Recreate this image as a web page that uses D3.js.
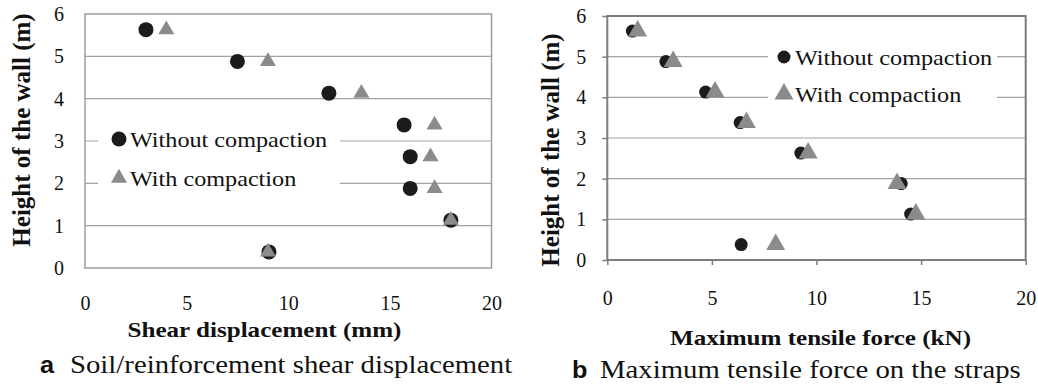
<!DOCTYPE html>
<html>
<head>
<meta charset="utf-8">
<script src="https://cdn.jsdelivr.net/npm/d3@7"></script>
<style>
  body { margin: 0; background: #fff; }
  svg { display: block; }
  text { font-family: 'Liberation Serif', 'Times New Roman', serif; fill: #111; }
</style>
</head>
<body>
<div id="chart"></div>
<script>
// Heights of the straps along the wall (m)
var heights = [5.63, 4.88, 4.13, 3.38, 2.63, 1.88, 1.13, 0.38];

// a: shear displacement (mm)
var shearWithout = [3.0, 7.5, 12.0, 15.7, 16.0, 16.0, 18.0, 9.05];
var shearWith = [4.0, 9.0, 13.6, 17.2, 17.0, 17.2, 18.0, 9.0];

// b: maximum tensile force (kN)
var forceWithout = [1.2, 2.8, 4.7, 6.35, 9.25, 14.05, 14.5, 6.4];
var forceWith = [1.45, 3.15, 5.15, 6.65, 9.6, 13.85, 14.75, 8.05];

var xTicks = [0, 5, 10, 15, 20];
var yTicks = [0, 1, 2, 3, 4, 5, 6];
var seriesNames = ["Without compaction", "With compaction"];

var W = 1038, H = 384;
var svg = d3.select("#chart").append("svg")
    .attr("width", W)
    .attr("height", H);

// the picture is a bit stretched sideways, so horizontal text gets a scale
function stretchedText(g, x, y, str, size, anchor, bold, sx) {
    return g.append("text")
        .attr("transform", "translate(" + x + "," + y + ") scale(" + sx + ",1)")
        .attr("text-anchor", anchor)
        .style("font-size", size + "px")
        .style("font-weight", bold ? "bold" : "normal")
        .text(str);
}

function drawPanel(p) {
    var g = svg.append("g");

    var x = d3.scaleLinear().domain([0, 20]).range([p.left, p.right]);
    var y = d3.scaleLinear().domain([0, 6]).range([p.bottom, p.top]);

    // gridlines
    g.append("g").selectAll("line")
        .data(yTicks.slice(1, -1))
        .enter().append("line")
        .attr("x1", p.left).attr("x2", p.right)
        .attr("y1", function(d) { return y(d); })
        .attr("y2", function(d) { return y(d); })
        .attr("stroke", "#a3a3a3")
        .attr("stroke-width", 1.2);

    // white legend box covers the gridlines
    g.append("rect")
        .attr("x", p.legend.box[0]).attr("y", p.legend.box[1])
        .attr("width", p.legend.box[2]).attr("height", p.legend.box[3])
        .attr("fill", "#fff");

    // plot border
    g.append("rect")
        .attr("x", p.left).attr("y", p.top)
        .attr("width", p.right - p.left).attr("height", p.bottom - p.top)
        .attr("fill", "none")
        .attr("stroke", p.borderColor)
        .attr("stroke-width", p.borderWidth);

    // axes
    var fmt = d3.format("d");
    var xAxis = g.append("g")
        .attr("transform", "translate(0," + p.bottom + ")")
        .call(d3.axisBottom(x).tickValues(xTicks).tickFormat(fmt)
            .tickSize(p.tick).tickSizeOuter(0).tickPadding(p.xPad));
    var yAxis = g.append("g")
        .attr("transform", "translate(" + p.left + ",0)")
        .call(d3.axisLeft(y).tickValues(yTicks).tickFormat(fmt)
            .tickSize(p.tick).tickSizeOuter(0).tickPadding(p.yPad));

    [xAxis, yAxis].forEach(function(a) {
        a.attr("font-family", null).attr("font-size", null);
        a.select(".domain").remove();
        a.selectAll(".tick line").attr("stroke", p.borderColor).attr("stroke-width", 1.5);
        a.selectAll(".tick text")
            .style("font-size", "20px")
            .attr("fill", "#111");
    });

    // points
    g.append("g").selectAll("circle")
        .data(p.without)
        .enter().append("circle")
        .attr("cx", function(d) { return x(d); })
        .attr("cy", function(d, i) { return y(heights[i]); })
        .attr("r", p.r)
        .attr("fill", "#1c1c1c");

    var tri = d3.symbol().type(d3.symbolTriangle).size(p.triSize);
    g.append("g").selectAll("path")
        .data(p.with)
        .enter().append("path")
        .attr("d", tri)
        .attr("transform", function(d, i) { return "translate(" + x(d) + "," + y(heights[i]) + ")"; })
        .attr("fill", "#8b8b8b");

    // legend
    var L = p.legend;
    g.append("circle")
        .attr("cx", L.mx).attr("cy", L.y1)
        .attr("r", p.r)
        .attr("fill", "#1c1c1c");
    g.append("path")
        .attr("d", tri)
        .attr("transform", "translate(" + L.mx + "," + L.y2 + ")")
        .attr("fill", "#8b8b8b");
    stretchedText(g, L.tx, L.y1 + 8, seriesNames[0], 22, "start", false, 1.1);
    stretchedText(g, L.tx, L.y2 + 8, seriesNames[1], 22, "start", false, 1.1);

    // axis titles
    stretchedText(g, p.xTitle[0], p.xTitle[1], p.xLabel, 22, "middle", true, 1.14);
    g.append("text")
        .attr("transform", "translate(" + p.yTitle[0] + "," + p.yTitle[1] + ") rotate(-90)")
        .attr("text-anchor", "middle")
        .style("font-size", "25px")
        .style("font-weight", "bold")
        .text("Height of the wall (m)");

    // caption: bold sans letter, then serif text
    g.append("text")
        .attr("transform", "translate(" + p.cap[0] + "," + p.cap[1] + ") scale(1.1,1)")
        .style("font-family", "'Liberation Sans', Arial, sans-serif")
        .style("font-size", "23px")
        .style("font-weight", "bold")
        .text(p.letter);
    stretchedText(g, p.cap[2], p.cap[1], p.caption, 25, "start", false, 1.15);
}

drawPanel({
    left: 85, right: 491.5, top: 14, bottom: 268,
    borderColor: "#9d9d9d", borderWidth: 1.5,
    tick: 0, xPad: 28, yPad: 21,
    without: shearWithout, with: shearWith,
    r: 7.5, triSize: 112,
    legend: {box: [98, 112, 242, 88], mx: 119, tx: 130, y1: 139, y2: 178},
    xLabel: "Shear displacement (mm)", xTitle: [264.5, 337],
    yTitle: [30, 130],
    letter: "a", caption: "Soil/reinforcement shear displacement", cap: [40, 373, 70]
});

drawPanel({
    left: 607.3, right: 1025.7, top: 16, bottom: 260,
    borderColor: "#7c7c7c", borderWidth: 2,
    tick: 5, xPad: 26, yPad: 16,
    without: forceWithout, with: forceWith,
    r: 6.5, triSize: 155,
    legend: {box: [768, 38, 229, 80], mx: 784, tx: 795, y1: 57, y2: 94},
    xLabel: "Maximum tensile force (kN)", xTitle: [820.5, 345],
    yTitle: [559, 150],
    letter: "b", caption: "Maximum tensile force on the straps", cap: [572, 378, 600]
});
</script>
</body>
</html>
